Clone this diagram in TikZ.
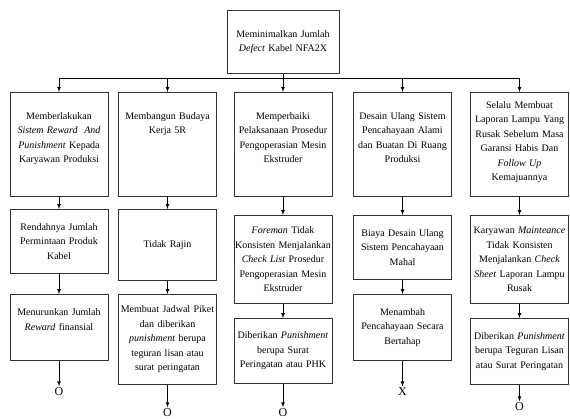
\documentclass[tikz,border=0pt]{standalone}
\usepackage{fontspec}
\setmainfont{Liberation Serif}

\begin{document}
\begin{tikzpicture}[x=1pt, y=-1pt,
                    kotak/.style={draw=black!80, line width=0.7pt, anchor=north,
                                  text width=96pt, inner xsep=1pt, inner ysep=3pt,
                                  align=center, font=\fontsize{10}{14.5}\selectfont},
                    panah/.style={-latex, line width=0.7pt},
                    hasil/.style={inner sep=1.5pt, font=\fontsize{12}{14}\selectfont}]
  \useasboundingbox (0,0) rectangle (570,419);

  \node[kotak, text width=110pt, minimum height=63pt] (akar) at (283,10)
    {Meminimalkan Jumlah\\ \textit{Defect} Kabel NFA2X};

  % tingkat 1
  \node[kotak, text height=24pt, text depth=74pt] (a1) at (59,92)
    {Memberlakukan\\ \textit{Sistem Reward\ \ And}\\ \textit{Punishment} Kepada\\ Karyawan Produksi};
  \node[kotak, text height=24pt, text depth=74pt] (a2) at (167.5,92)
    {Membangun Budaya\\ Kerja 5R};
  \node[kotak, text height=24pt, text depth=74pt] (a3) at (283,92)
    {Memperbaiki\\ Pelaksanaan Prosedur\\ Pengoperasian Mesin\\ Ekstruder};
  \node[kotak, text height=24pt, text depth=74pt] (a4) at (402.5,92)
    {Desain Ulang Sistem\\ Pencahayaan Alami\\ dan Buatan Di Ruang\\ Produksi};
  \node[kotak, text height=13pt, text depth=85pt] (a5) at (519.5,92)
    {Selalu Membuat\\ Laporan Lampu Yang\\ Rusak Sebelum Masa\\ Garansi Habis Dan\\ \textit{Follow Up}\\ Kemajuannya};

  % tingkat 2
  \node[kotak, minimum height=64pt] (b1) at (59,209)
    {Rendahnya Jumlah\\ Permintaan Produk\\ Kabel};
  \node[kotak, minimum height=71pt] (b2) at (167.5,209)
    {Tidak Rajin};
  \node[kotak, minimum height=88pt] (b3) at (283,215)
    {\textit{Foreman} Tidak\\ Konsisten Menjalankan\\ \textit{Check List} Prosedur\\ Pengoperasian Mesin\\ Ekstruder};
  \node[kotak, minimum height=64pt] (b4) at (402.5,215)
    {Biaya Desain Ulang\\ Sistem Pencahayaan\\ Mahal};
  \node[kotak, minimum height=88pt] (b5) at (519.5,215)
    {Karyawan \textit{Mainteance}\\ Tidak Konsisten\\ Menjalankan \textit{Check}\\ \textit{Sheet} Laporan Lampu\\ Rusak};

  % tingkat 3
  \node[kotak, text height=18.5pt, text depth=41.5pt] (c1) at (59,294)
    {Menurunkan Jumlah\\ \textit{Reward} finansial};
  \node[kotak, minimum height=90pt] (c2) at (167.5,294)
    {Membuat Jadwal Piket\\ dan diberikan\\ \textit{punishment} berupa\\ teguran lisan atau\\ surat peringatan};
  \node[kotak, minimum height=65pt] (c3) at (283,318)
    {Diberikan \textit{Punishment}\\ berupa Surat\\ Peringatan atau PHK};
  \node[kotak, minimum height=66pt] (c4) at (402.5,294)
    {Menambah\\ Pencahayaan Secara\\ Bertahap};
  \node[kotak, minimum height=66pt] (c5) at (519.5,318)
    {Diberikan \textit{Punishment}\\ berupa Teguran Lisan\\ atau Surat Peringatan};

  \node[hasil] (h1) at (59,392) {O};
  \node[hasil] (h2) at (167.5,413) {O};
  \node[hasil] (h3) at (283,413) {O};
  \node[hasil] (h4) at (402.5,392) {X};
  \node[hasil] (h5) at (519.5,407) {O};

  % cabang dari akar
  \coordinate (cabang) at (283,78);
  \draw[panah] (akar.south) -- (a3.north);
  \foreach \k in {1,2,4,5}
    \draw[panah] (cabang) -| (a\k.north);

  \foreach \k in {1,...,5} {
    \draw[panah] (a\k) -- (b\k);
    \draw[panah] (b\k) -- (c\k);
    \draw[panah] (c\k) -- (h\k);
  }
\end{tikzpicture}
\end{document}
